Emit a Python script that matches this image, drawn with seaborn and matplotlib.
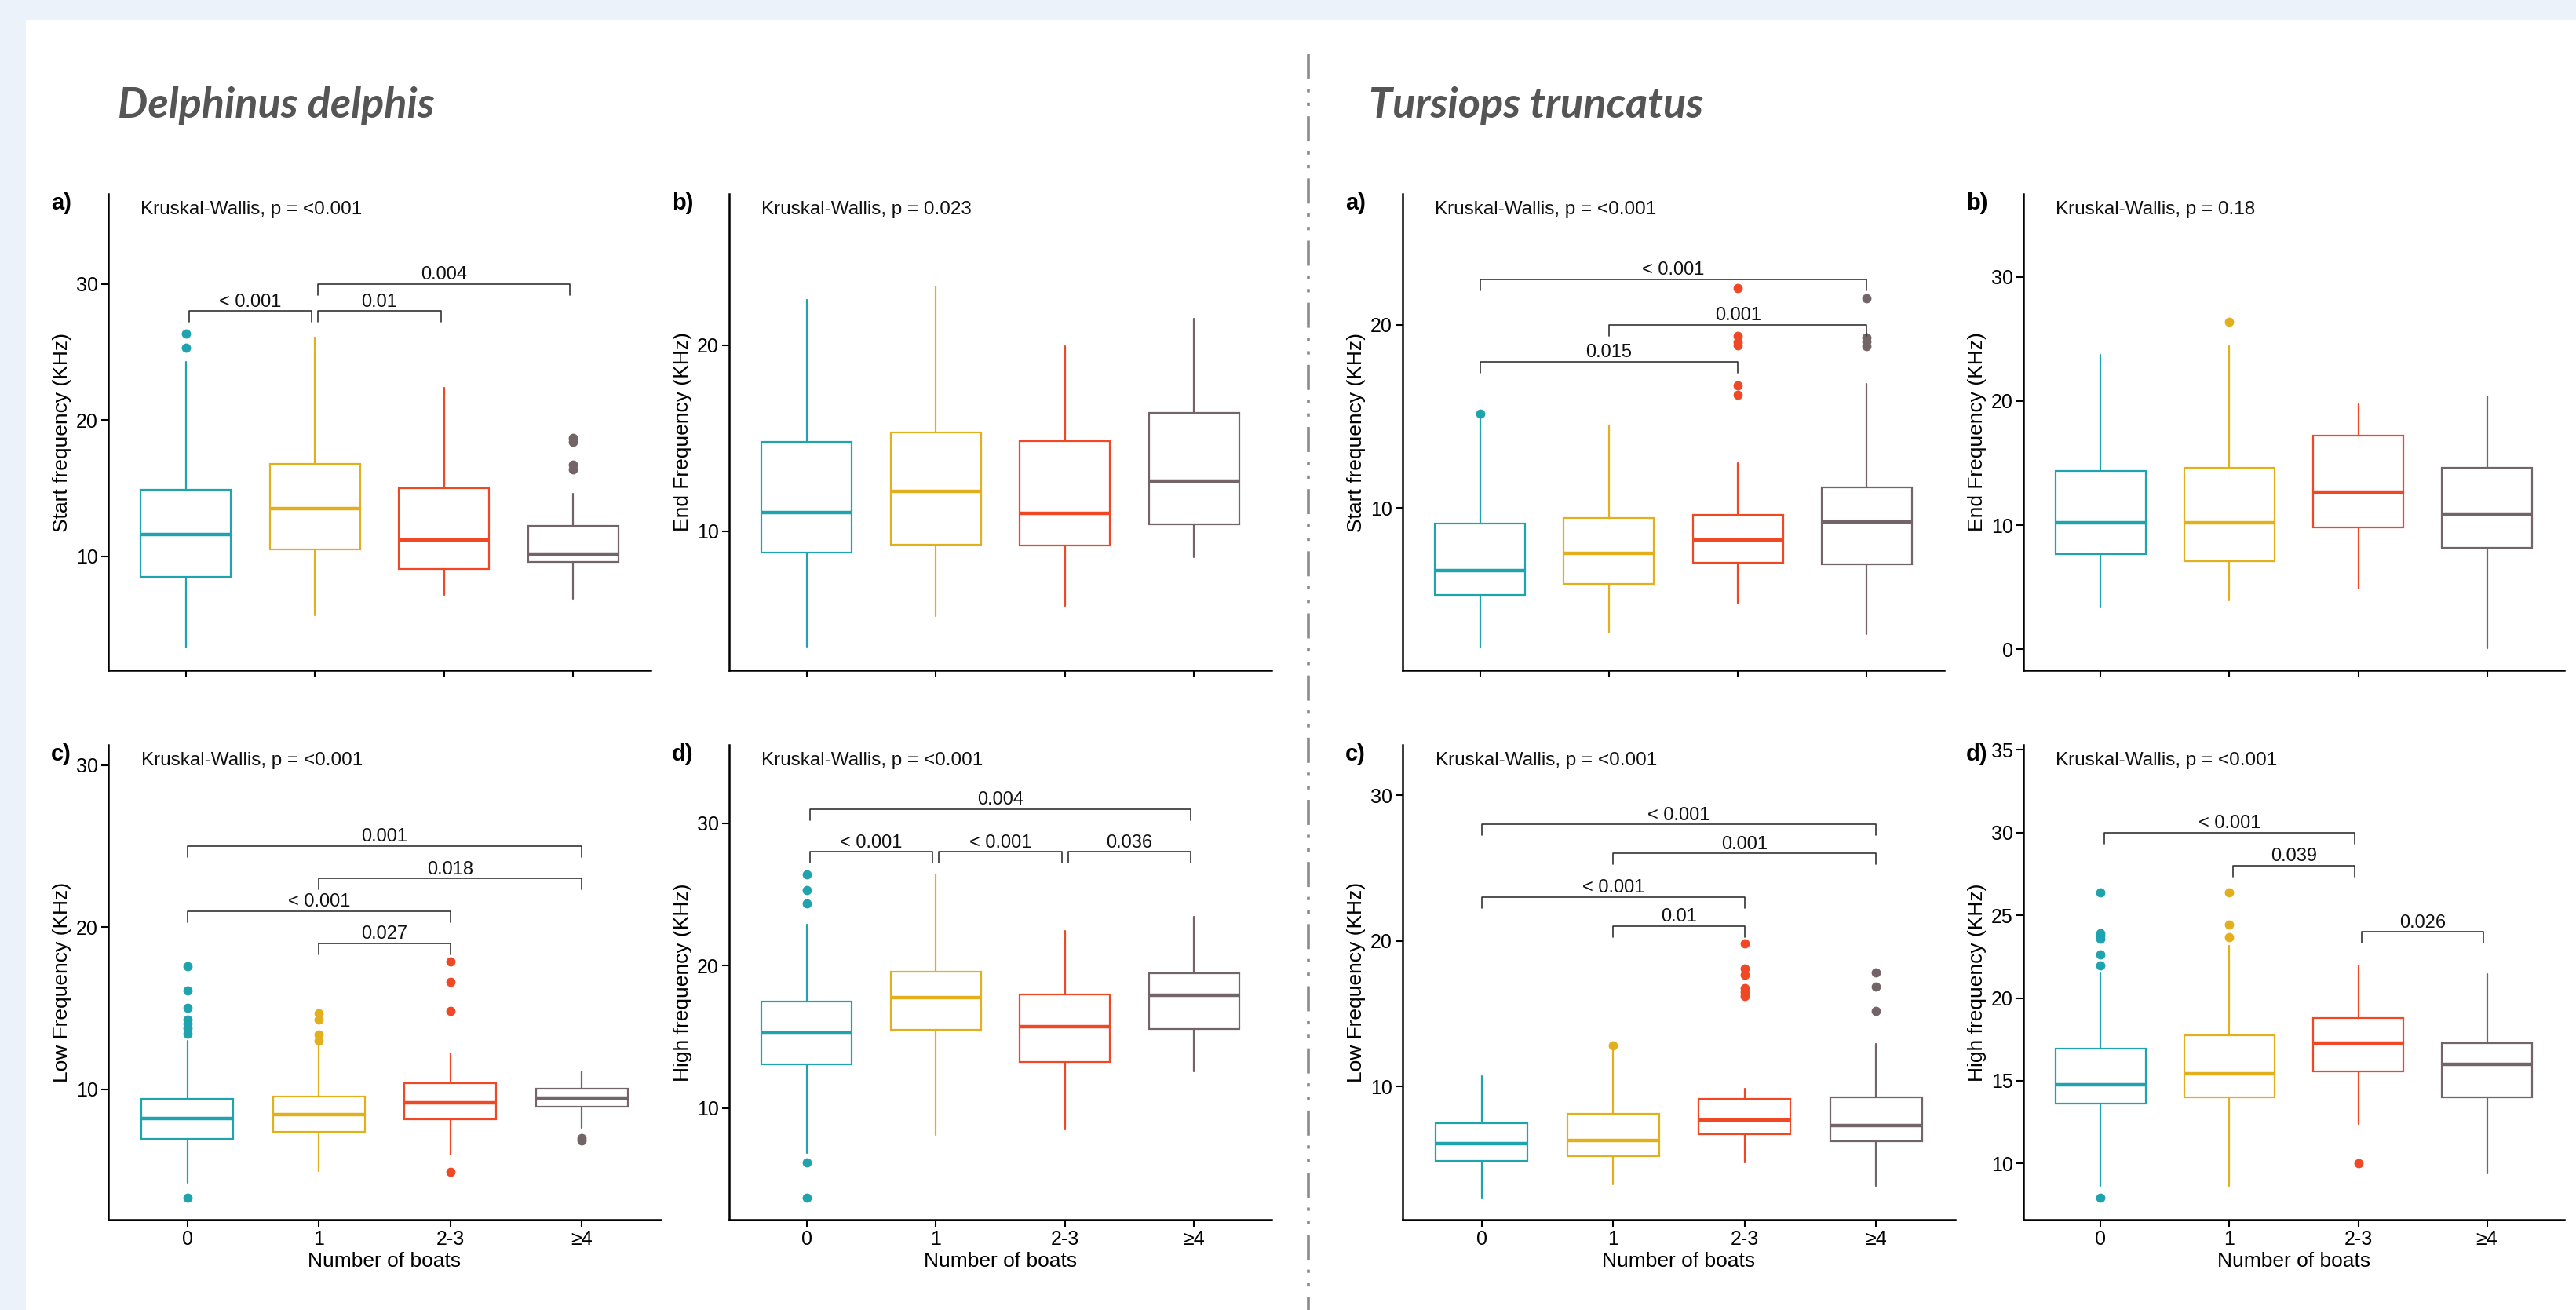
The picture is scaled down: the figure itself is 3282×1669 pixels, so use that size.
# Boat presence vs whistle frequencies, two dolphin species
# boxplots drawn from read-off summary statistics

import matplotlib
matplotlib.use("Agg")
import matplotlib.pyplot as plt
import seaborn as sns
from matplotlib.patches import Rectangle
from matplotlib.lines import Line2D

# ---------------- data ----------------
groups = ["0", "1", "2-3", "≥4"]
palette = ["#1FA4AF", "#E2B01C", "#F04824", "#736567"]

# Delphinus delphis - start frequency (a)
dd_start_lo = [3.3, 5.7, 7.2, 6.9]
dd_start_q1 = [8.5, 10.5, 9.05, 9.6]
dd_start_med = [11.6, 13.5, 11.2, 10.15]
dd_start_q3 = [14.9, 16.8, 15.0, 12.25]
dd_start_hi = [24.3, 26.05, 22.4, 14.6]
dd_start_out = [[25.3, 26.35], [], [], [16.4, 16.75, 18.4, 18.7]]
dd_start_br = [(0, 1, 28.0, "< 0.001"), (1, 2, 28.0, "0.01"), (1, 3, 30.0, "0.004")]

# Delphinus delphis - end frequency (b)
dd_end_lo = [3.75, 5.4, 5.95, 8.6]
dd_end_q1 = [8.85, 9.25, 9.2, 10.35]
dd_end_med = [11.0, 12.15, 10.95, 12.7]
dd_end_q3 = [14.8, 15.3, 14.85, 16.35]
dd_end_hi = [22.45, 23.15, 19.95, 21.45]
dd_end_out = [[], [], [], []]
dd_end_br = []

# Delphinus delphis - low frequency (c)
dd_low_lo = [4.25, 4.95, 5.95, 7.6]
dd_low_q1 = [6.95, 7.35, 8.15, 8.9]
dd_low_med = [8.2, 8.45, 9.15, 9.45]
dd_low_q3 = [9.4, 9.55, 10.4, 10.05]
dd_low_hi = [13.0, 12.9, 12.2, 11.1]
dd_low_out = [[3.3, 13.45, 13.75, 14.05, 14.3, 15.05, 16.1, 17.6],
              [13.0, 13.4, 14.3, 14.7], [4.9, 14.85, 16.6, 17.9], [6.85, 7.0]]
dd_low_br = [(0, 3, 25.0, "0.001"), (1, 3, 23.0, "0.018"),
             (0, 2, 21.0, "< 0.001"), (1, 2, 19.0, "0.027")]

# Delphinus delphis - high frequency (d)
dd_high_lo = [6.85, 8.1, 8.5, 12.55]
dd_high_q1 = [13.05, 15.5, 13.25, 15.55]
dd_high_med = [15.25, 17.75, 15.7, 17.9]
dd_high_q3 = [17.5, 19.55, 17.95, 19.45]
dd_high_hi = [22.85, 26.4, 22.45, 23.45]
dd_high_out = [[3.7, 6.2, 24.35, 25.3, 26.4], [], [], []]
dd_high_br = [(0, 3, 31.0, "0.004"), (0, 1, 28.0, "< 0.001"),
              (1, 2, 28.0, "< 0.001"), (2, 3, 28.0, "0.036")]

# Tursiops truncatus - start frequency (a)
tt_start_lo = [2.4, 3.2, 4.8, 3.1]
tt_start_q1 = [5.25, 5.85, 7.0, 6.95]
tt_start_med = [6.6, 7.55, 8.25, 9.25]
tt_start_q3 = [9.15, 9.45, 9.65, 11.15]
tt_start_hi = [14.95, 14.5, 12.45, 16.8]
tt_start_out = [[15.15], [], [16.2, 16.7, 18.9, 19.05, 19.4, 22.0], [18.85, 19.1, 19.3, 21.45]]
tt_start_br = [(0, 3, 22.5, "< 0.001"), (1, 3, 20.0, "0.001"), (0, 2, 18.0, "0.015")]

# Tursiops truncatus - end frequency (b)
tt_end_lo = [3.45, 3.9, 4.9, 0.1]
tt_end_q1 = [7.65, 7.1, 9.8, 8.15]
tt_end_med = [10.2, 10.2, 12.65, 10.9]
tt_end_q3 = [14.4, 14.6, 17.2, 14.65]
tt_end_hi = [23.75, 24.45, 19.75, 20.4]
tt_end_out = [[], [26.4], [], []]
tt_end_br = []

# Tursiops truncatus - low frequency (c)
tt_low_lo = [2.35, 3.25, 4.8, 3.15]
tt_low_q1 = [4.9, 5.2, 6.7, 6.25]
tt_low_med = [6.05, 6.3, 7.7, 7.3]
tt_low_q3 = [7.5, 8.15, 9.15, 9.25]
tt_low_hi = [10.7, 12.6, 9.85, 12.9]
tt_low_out = [[], [12.8], [16.2, 16.45, 16.75, 17.65, 18.1, 19.8], [15.2, 16.85, 17.85]]
tt_low_br = [(0, 3, 28.0, "< 0.001"), (1, 3, 26.0, "0.001"),
             (0, 2, 23.0, "< 0.001"), (1, 2, 21.0, "0.01")]

# Tursiops truncatus - high frequency (d)
tt_high_lo = [8.65, 8.65, 12.4, 9.4]
tt_high_q1 = [13.6, 14.0, 15.55, 14.0]
tt_high_med = [14.75, 15.4, 17.25, 16.0]
tt_high_q3 = [16.95, 17.75, 18.8, 17.25]
tt_high_hi = [21.5, 23.15, 21.95, 21.45]
tt_high_out = [[7.95, 21.95, 22.65, 23.6, 23.75, 23.9, 26.4], [23.7, 24.45, 26.4], [10.0], []]
tt_high_br = [(0, 2, 30.0, "< 0.001"), (1, 2, 28.0, "0.039"), (2, 3, 24.0, "0.026")]

# ---------------- style ----------------
sns.set_theme(style="ticks")
plt.rcParams["font.family"] = ["Liberation Sans", "DejaVu Sans"]
plt.rcParams["lines.scale_dashes"] = False

W, H = 3282, 1669
fig = plt.figure(figsize=(W / 100, H / 100), dpi=100)
fig.patch.set_facecolor("#ebf2fa")
fig.add_artist(Rectangle((33 / W, 0), 1, 1 - 25 / H, transform=fig.transFigure,
                         facecolor="white", edgecolor="none", zorder=-1))


def add_axes(x0, x1, y0, y1):
    # pixel box -> figure fraction
    return fig.add_axes([x0 / W, 1 - y1 / H, (x1 - x0) / W, (y1 - y0) / H])


def draw_panel(ax, lo, q1, med, q3, hi, out, br, ylim, yticks, ylabel, kw, shrink, bottom):
    for i in range(len(groups)):
        c = palette[i]
        st = dict(whislo=lo[i], q1=q1[i], med=med[i], q3=q3[i], whishi=hi[i], fliers=out[i])
        ax.bxp([st], positions=[i], widths=0.7, showcaps=False, patch_artist=True,
               boxprops=dict(facecolor="white", edgecolor=c, linewidth=1.6),
               medianprops=dict(color=c, linewidth=3.2, solid_capstyle="butt"),
               whiskerprops=dict(color=c, linewidth=1.6),
               flierprops=dict(marker="o", markerfacecolor=c, markeredgecolor=c,
                               markersize=7.5, linestyle="none"))

    ax.set_xlim(-0.6, 3.6)
    ax.set_ylim(*ylim)
    ax.set_yticks(yticks)
    ax.set_xticks(range(len(groups)))
    ax.set_facecolor("none")

    # significance brackets
    tip = 0.023 * (ylim[1] - ylim[0])
    for i, j, y, lab in br:
        xa, xb = i + shrink, j - shrink
        ax.plot([xa, xa, xb, xb], [y - tip, y, y, y - tip], color="#333333", lw=1.2)
        ax.annotate(lab, ((i + j) / 2, y), xytext=(0, 4), textcoords="offset points",
                    ha="center", va="baseline", fontsize=17, color="#111111")

    ax.text(0.06, 1 - 20 / (ax.bbox.height), "Kruskal-Wallis, p = " + kw,
            transform=ax.transAxes, ha="left", va="center", fontsize=17.5, color="#111111")

    ax.set_ylabel(ylabel, fontsize=19, labelpad=4, color="black")
    if bottom:
        ax.set_xticklabels(groups)
        ax.set_xlabel("Number of boats", fontsize=19, labelpad=3, color="black")
    else:
        ax.set_xticklabels([])

    sns.despine(ax=ax)
    for s in ["left", "bottom"]:
        ax.spines[s].set_linewidth(1.8)
        ax.spines[s].set_color("black")
    ax.tick_params(axis="both", length=6.5, width=1.5, color="black", pad=3,
                   labelsize=18, labelcolor="black")


# axes boxes in pixels (left, right, top, bottom)
top_row = (247, 854)
bot_row = (949, 1554)
panels = [
    ((138, 829) + top_row, "a)", dd_start_lo, dd_start_q1, dd_start_med, dd_start_q3, dd_start_hi,
     dd_start_out, dd_start_br, (1.65, 36.6), [10, 20, 30], "Start frequency (KHz)", "<0.001", 0.025, False),
    ((929, 1620) + top_row, "b)", dd_end_lo, dd_end_q1, dd_end_med, dd_end_q3, dd_end_hi,
     dd_end_out, dd_end_br, (2.5, 28.15), [10, 20], "End Frequency (KHz)", "0.023", 0.0, False),
    ((1787, 2477) + top_row, "a)", tt_start_lo, tt_start_q1, tt_start_med, tt_start_q3, tt_start_hi,
     tt_start_out, tt_start_br, (1.15, 27.15), [10, 20], "Start frequency (KHz)", "<0.001", 0.0, False),
    ((2578, 3267) + top_row, "b)", tt_end_lo, tt_end_q1, tt_end_med, tt_end_q3, tt_end_hi,
     tt_end_out, tt_end_br, (-1.7, 36.7), [0, 10, 20, 30], "End Frequency (KHz)", "0.18", 0.0, False),
    ((138, 842) + bot_row, "c)", dd_low_lo, dd_low_q1, dd_low_med, dd_low_q3, dd_low_hi,
     dd_low_out, dd_low_br, (1.95, 31.25), [10, 20, 30], "Low Frequency (KHz)", "<0.001", 0.0, True),
    ((929, 1620) + bot_row, "d)", dd_high_lo, dd_high_q1, dd_high_med, dd_high_q3, dd_high_hi,
     dd_high_out, dd_high_br, (2.15, 35.5), [10, 20, 30], "High frequency (KHz)", "<0.001", 0.025, True),
    ((1787, 2491) + bot_row, "c)", tt_low_lo, tt_low_q1, tt_low_med, tt_low_q3, tt_low_hi,
     tt_low_out, tt_low_br, (0.85, 33.45), [10, 20, 30], "Low Frequency (KHz)", "<0.001", 0.0, True),
    ((2578, 3267) + bot_row, "d)", tt_high_lo, tt_high_q1, tt_high_med, tt_high_q3, tt_high_hi,
     tt_high_out, tt_high_br, (6.6, 35.3), [10, 15, 20, 25, 30, 35], "High frequency (KHz)", "<0.001", 0.025, True),
]

for box, tag, lo, q1, med, q3, hi, out, br, ylim, yticks, ylabel, kw, shrink, bottom in panels:
    x0, x1, y0, y1 = box
    ax = add_axes(x0, x1, y0, y1)
    draw_panel(ax, lo, q1, med, q3, hi, out, br, ylim, yticks, ylabel, kw, shrink, bottom)
    fig.text((x0 - 73) / W, 1 - (y0 + 12) / H, tag, fontsize=21, fontweight="bold",
             ha="left", va="center", color="black")

# species titles
fig.text(150 / W, 1 - 150 / H, "Delphinus delphis", fontsize=39, fontweight="bold",
         style="italic", family=["Lato", "DejaVu Sans"], color="#555555", va="baseline")
fig.text(1744 / W, 1 - 150 / H, "Tursiops truncatus", fontsize=39, fontweight="bold",
         style="italic", family=["Lato", "DejaVu Sans"], color="#555555", va="baseline")

# dash-dot-dot divider between species
div = Line2D([1667 / W, 1667 / W], [1 - 69 / H, 0], transform=fig.transFigure,
             color="#8a8a8a", lw=2.6)
div.set_dashes((23, 9, 3, 9.5, 3, 9.5))
fig.add_artist(div)

plt.savefig("out.png", dpi=100, facecolor=fig.get_facecolor())
